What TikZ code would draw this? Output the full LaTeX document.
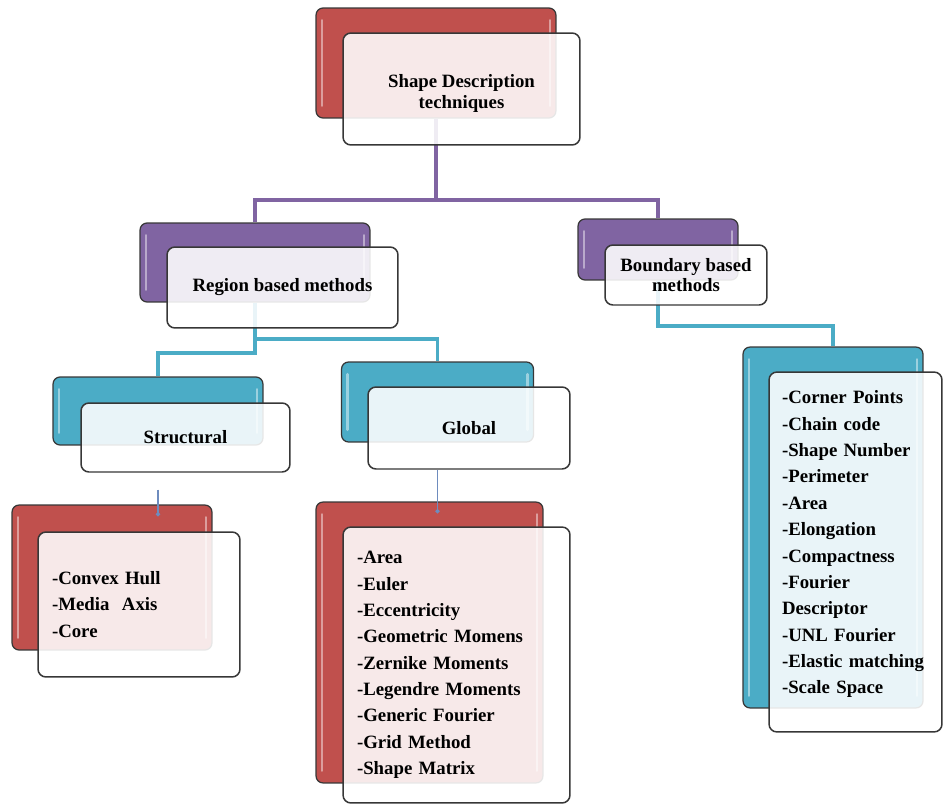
\documentclass[tikz,border=0pt]{standalone}
\usepackage{fontspec}
\setmainfont{Liberation Serif}
\usetikzlibrary{arrows.meta, positioning, calc}
\definecolor{cRed}  {RGB}{192,80,77}
\definecolor{cPurp} {RGB}{128,100,162}
\definecolor{cTeal} {RGB}{75,172,198}
\definecolor{cThin} {RGB}{110,140,190}
\definecolor{cEdge} {RGB}{55,55,55}

\begin{document}
\begin{tikzpicture}[
  x=0.02cm, y=-0.02cm,
  font=\bfseries\fontsize{10.7}{15}\selectfont,
  % ── coloured back plates
  plate/.style={
    draw=cEdge, rounded corners=4pt, line width=0.7pt,
    path picture={
      \draw[white, opacity=0.45, line width=1.5pt, line cap=round]
        ([xshift=3.5pt,yshift=-7pt]path picture bounding box.north west) --
        ([xshift=3.5pt,yshift=7pt]path picture bounding box.south west)
        ([xshift=-3.5pt,yshift=-7pt]path picture bounding box.north east) --
        ([xshift=-3.5pt,yshift=7pt]path picture bounding box.south east);
    }
  },
  redp/.style ={plate, fill=cRed},
  purp/.style ={plate, fill=cPurp},
  tealp/.style={plate, fill=cTeal},
  % ── white front cards
  card/.style={
    draw=cEdge, fill=white, fill opacity=0.88, text opacity=1,
    rounded corners=4.5pt, line width=0.85pt, align=center, inner sep=0pt
  },
  list/.style={card, align=left, inner xsep=0.28cm},
  % ── connectors
  plink/.style={draw=cPurp, line width=2.2pt},
  tlink/.style={draw=cTeal, line width=2.2pt},
  slink/.style={draw=cThin, line width=0.6pt, -{Circle[length=2.5pt]}},
]
\useasboundingbox (0,0) rectangle (944,805);

%% ═══════════════════════════════════════════════════════════════════
%%  BACK PLATES
%% ═══════════════════════════════════════════════════════════════════

\node[redp,  minimum width=4.8cm,  minimum height=2.2cm]  (topB) at (436,63) {};

\node[purp,  minimum width=4.6cm,  minimum height=1.58cm] (regB) at (255,262.5) {};
\node[purp,  minimum width=3.2cm,  minimum height=1.22cm] (bndB) at (658,249.5) {};

\node[tealp, minimum width=4.2cm,  minimum height=1.36cm] (strB) at (158,411) {};
\node[tealp, minimum width=3.84cm, minimum height=1.6cm]  (gloB) at (437.5,402) {};
\node[tealp, minimum width=3.6cm,  minimum height=7.22cm] (rgtB) at (833,527.5) {};

\node[redp,  minimum width=4cm,    minimum height=2.9cm]  (lstB) at (112,577.5) {};
\node[redp,  minimum width=4.54cm, minimum height=5.62cm] (glbB) at (429.5,642.5) {};

%% ═══════════════════════════════════════════════════════════════════
%%  CONNECTORS (behind the cards)
%% ═══════════════════════════════════════════════════════════════════

\coordinate (pj)  at (0,200);
\coordinate (tj1) at (0,339);
\coordinate (tj2) at (0,353);
\coordinate (tj3) at (0,326);

% root -> region / boundary
\draw[plink] (topB.south) -- (topB.south |- pj);
\draw[plink] (regB.north) -- (regB.north |- pj) -- (bndB.north |- pj) -- (bndB.north);

% region -> structural / global
\draw[tlink] (regB.south) -- (regB.south |- tj2) -| (strB.north);
\draw[tlink] (regB.south |- tj1) -| (gloB.north);

% boundary -> list
\draw[tlink] (bndB.south) -- (bndB.south |- tj3) -| (rgtB.north);

%% ═══════════════════════════════════════════════════════════════════
%%  FRONT CARDS
%% ═══════════════════════════════════════════════════════════════════

\node[card, minimum width=4.74cm, minimum height=2.24cm] (topF)
  at ($(topB)+(25.5,26)$) {\mbox{}\\[-3pt]Shape Description\\[-3pt]techniques};

\node[card, minimum width=4.62cm, minimum height=1.62cm] (regF)
  at ($(regB)+(27.5,25)$) {Region based methods};

\node[card, minimum width=3.24cm, minimum height=1.2cm] (bndF)
  at ($(bndB)+(28,25.5)$) {Boundary based\\[-3.5pt]methods};

\node[card, minimum width=4.18cm, minimum height=1.38cm] (strF)
  at ($(strB)+(27.5,26.5)$) {Structural};

\node[card, minimum width=4.04cm, minimum height=1.64cm] (gloF)
  at ($(gloB)+(31.5,26)$) {Global};

\node[list, text width=3.48cm, minimum height=2.9cm] (lstF)
  at ($(lstB)+(27,27)$) {
  -Convex Hull\\
  -Media~~Axis\\
  -Core
};

\node[list, text width=3.98cm, minimum height=5.52cm] (glbF)
  at ($(glbB)+(27,22.5)$) {
  -Area\\
  -Euler\\
  -Eccentricity\\
  -Geometric Momens\\
  -Zernike Moments\\
  -Legendre Moments\\
  -Generic Fourier\\
  -Grid Method\\
  -Shape Matrix
};

\node[list, inner xsep=0.26cm, text width=2.94cm, minimum height=7.2cm] (rgtF)
  at ($(rgtB)+(22.5,24.5)$) {
  -Corner Points\\
  -Chain code\\
  -Shape Number\\
  -Perimeter\\
  -Area\\
  -Elongation\\
  -Compactness\\
  -Fourier\\
  Descriptor\\
  -UNL Fourier\\
  -Elastic matching\\
  -Scale Space\\[-4pt]
  \mbox{}
};

% thin drops into the red plates
\draw[slink, shorten <=0.34cm, shorten >=-0.24cm]
  (strF.south -| strB.south) -- (lstB.north -| strB.south);
\draw[slink, shorten >=-0.24cm]
  (gloF.south -| gloB.south) -- (glbB.north -| gloB.south);

\end{tikzpicture}
\end{document}
